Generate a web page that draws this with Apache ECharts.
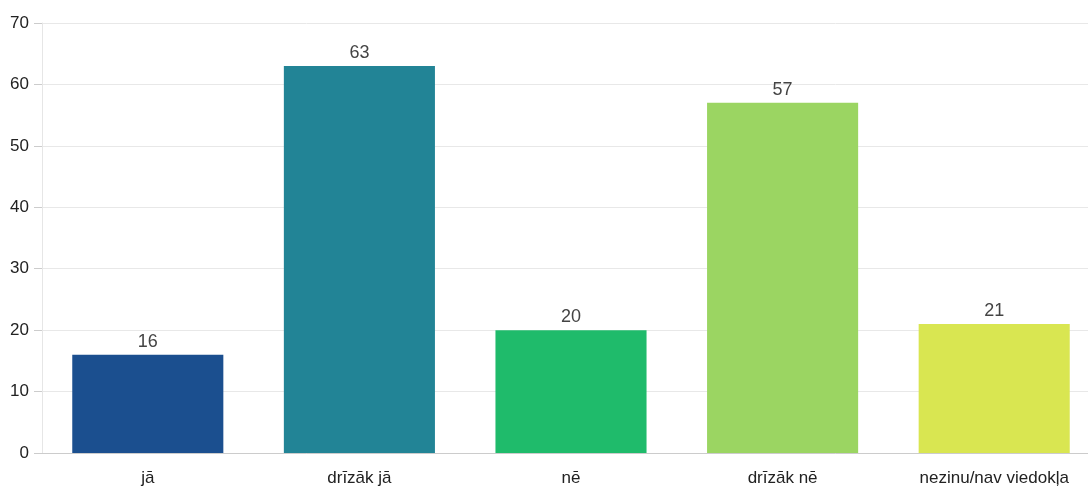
<!DOCTYPE html>
<html>
<head>
<meta charset="utf-8">
<script src="https://cdn.jsdelivr.net/npm/echarts@6/dist/echarts.min.js"></script>
<style>
html,body{margin:0;padding:0;background:#fff;overflow:hidden;width:1088px;height:487px;}
#chart{width:1100px;height:487px;}
</style>
</head>
<body>
<div id="chart"></div>
<script>
const categories = ['jā', 'drīzāk jā', 'nē', 'drīzāk nē', 'nezinu/nav viedokļa'];
const values = [16, 63, 20, 57, 21];
const barColors = ['#1B4F8F', '#228496', '#1FBB6B', '#9BD562', '#D9E651'];
const yTicks = { min: 0, max: 70, interval: 10 };

const chart = echarts.init(document.getElementById('chart'));
chart.setOption({
  animation: false,
  grid: { left: 42, right: 0, top: 23, bottom: 34, containLabel: false },
  xAxis: {
    type: 'category',
    data: categories,
    axisLine: { show: true, lineStyle: { color: '#cccccc', width: 1 } },
    axisTick: { show: false },
    axisLabel: { color: '#222', fontSize: 17, fontFamily: 'Arial, Liberation Sans, sans-serif', margin: 17 }
  },
  yAxis: {
    type: 'value',
    min: yTicks.min, max: yTicks.max, interval: yTicks.interval,
    axisLine: { show: true, lineStyle: { color: '#e6e6e6', width: 1 } },
    axisTick: { show: true, length: 8, lineStyle: { color: '#cccccc' } },
    axisLabel: { color: '#222', fontSize: 17, fontFamily: 'Arial, Liberation Sans, sans-serif', margin: 13 },
    splitLine: { show: true, lineStyle: { color: '#e8e8e8', width: 1 } }
  },
  series: [{
    type: 'bar',
    data: values.map((v, i) => ({ value: v, itemStyle: { color: barColors[i] } })),
    barCategoryGap: '28.6%',
    label: { show: true, position: 'top', color: '#444', fontSize: 18, fontFamily: 'Arial, Liberation Sans, sans-serif', distance: 4 }
  }]
});
</script>
</body>
</html>
